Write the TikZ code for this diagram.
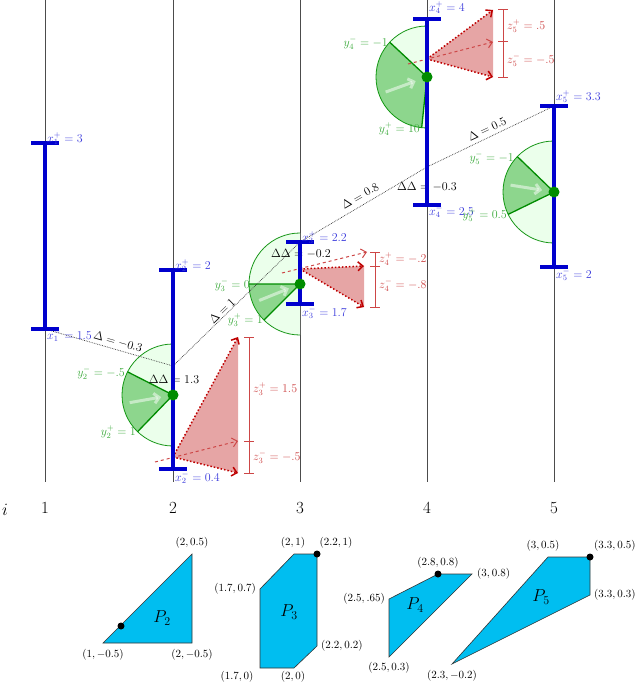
\documentclass[tikz,border=0pt]{standalone}
\usetikzlibrary{arrows.meta,calc}
\definecolor{bl}{RGB}{0,0,205}
\definecolor{bllab}{RGB}{60,60,220}
\definecolor{gd}{RGB}{0,140,0}
\definecolor{glab}{RGB}{60,170,60}
\definecolor{rd}{RGB}{190,0,0}
\definecolor{rlab}{RGB}{205,70,70}
\definecolor{rfill}{RGB}{230,165,165}
\definecolor{pfill}{RGB}{0,190,240}
\tikzset{
  col/.style={draw=black!70,line width=0.6pt},
  bar/.style={draw=bl,line width=3.5pt},
  blab/.style={text=bllab,inner sep=1pt,font=\fontsize{12}{13}\selectfont},
  glabel/.style={text=glab,inner sep=1pt,anchor=east,font=\fontsize{12}{13}\selectfont},
  rlabel/.style={text=rlab,inner sep=1pt,anchor=west,font=\fontsize{12}{13}\selectfont},
  dlab/.style={text=black,inner sep=1pt,font=\fontsize{12}{13}\selectfont},
  dline/.style={densely dotted,line width=0.7pt,black!80},
  rdash/.style={dashed,draw=rlab,line width=1pt,-{Straight Barb[length=5pt,width=9pt]}},
  rdot/.style={dotted,draw=rd,line width=1.5pt,-{Straight Barb[length=5pt,width=9pt]}},
  rtri/.style={fill=rfill},
  brk/.style={draw=rlab,line width=1pt},
  plab/.style={inner sep=1pt,font=\fontsize{11}{12}\selectfont},
  poly/.style={fill=pfill,draw=black!80,line width=0.6pt},
  plbl/.style={font=\fontsize{18}{19}\selectfont},
}
\newcommand\gsemic[5]{%
  \fill[green!8] (#1,#2) ++(0,-51) arc[start angle=-90,end angle=-270,radius=51] -- cycle;
  \draw[gd!90,line width=0.8pt] (#1,#2) ++(0,-51) arc[start angle=-90,end angle=-270,radius=51];
  \fill[green!60!black,fill opacity=0.4] (#1,#2) -- ++(-#3:51) arc[start angle=-#3,end angle=-#4,radius=51] -- cycle;
  \draw[gd,line width=1.3pt] ($(#1,#2)+(-#3:51)$) -- (#1,#2) -- ($(#1,#2)+(-#4:51)$);
  \draw[white,opacity=0.5,line width=3pt,-{Straight Barb[length=5pt,width=10pt]}] ($(#1,#2)+(-#5:44)$) -- ($(#1,#2)+(-#5:12)$);
}
\newcommand\bbar[3]{%
  \draw[bar] (#1,#2) -- (#1,#3);
  \draw[bar] (#1-14,#2) -- (#1+14,#2);
  \draw[bar] (#1-14,#3) -- (#1+14,#3);
}
\begin{document}
\begin{tikzpicture}[x=1pt,y=-1pt]
\useasboundingbox (0,0) rectangle (640,685);
% columns
\foreach \c/\x in {1/45,2/173,3/300,4/427,5/554}{
  \draw[col] (\x,0) coordinate (top\c) -- (\x,482) coordinate (bot\c);
  \node[font=\fontsize{17}{18}\selectfont] (n\c) at (\x,508) {\c};
}
\node[font=\fontsize{17}{18}\selectfont] (ilab) at (5,510) {$i$};
% green semicircles
\gsemic{173}{395}{153}{226}{190}
\gsemic{300}{284}{180}{225}{202}
\gsemic{427}{77}{137}{264}{200}
\gsemic{554}{192}{136}{206}{171}
% red parts col2
\coordinate (a2) at (173,457);
\coordinate (s2) at (155,462);
\coordinate (t2) at (238,441);
\coordinate (u2) at (238,337);
\coordinate (v2) at (238,473);
\fill[rtri] (a2) -- (u2) -- (v2) -- cycle;
\draw[rdash] (s2) -- (t2);
\draw[rdot] (a2) -- (u2);
\draw[rdot] (a2) -- (v2);
\draw[brk] (249,337) -- (249,473) (244,337) -- (254,337) (244,441) -- (254,441) (244,473) -- (254,473);
\node[rlabel] (z3p) at (252,389) {$z_3^+ = 1.5$};
\node[rlabel] (z3m) at (252,457) {$z_3^- = -.5$};
% col3
\coordinate (a3) at (300,269);
\coordinate (s3) at (282,273);
\coordinate (t3) at (367,252);
\coordinate (u3) at (364,266);
\coordinate (v3) at (364,307);
\fill[rtri] (a3) -- (u3) -- (v3) -- cycle;
\draw[rdash] (s3) -- (t3);
\draw[rdot] (a3) -- (u3);
\draw[rdot] (a3) -- (v3);
\draw[brk] (375,252) -- (375,307) (370,252) -- (380,252) (370,266) -- (380,266) (370,307) -- (380,307);
\node[rlabel] (z4p) at (378,259) {$z_4^+ = -.2$};
\node[rlabel] (z4m) at (378,285) {$z_4^- = -.8$};
% col4
\coordinate (a4) at (427,59);
\coordinate (s4) at (408,64);
\coordinate (t4) at (493,42);
\coordinate (u4) at (493,10);
\coordinate (v4) at (493,77);
\fill[rtri] (a4) -- (u4) -- (v4) -- cycle;
\draw[rdash] (s4) -- (t4);
\draw[rdot] (a4) -- (u4);
\draw[rdot] (a4) -- (v4);
\draw[brk] (503,10) -- (503,77) (498,10) -- (508,10) (498,42) -- (508,42) (498,77) -- (508,77);
\node[rlabel] (z5p) at (506,26) {$z_5^+ = .5$};
\node[rlabel] (z5m) at (506,60) {$z_5^- = -.5$};
% dotted delta line
\coordinate (d1) at (45,329);
\coordinate (d2) at (173,366);
\coordinate (d3) at (300,242);
\coordinate (d4) at (427,167);
\coordinate (d5) at (554,106);
\draw[dline] (d1) -- (d2) -- (d3) -- (d4) -- (d5);
\node[dlab,rotate=-16] (D1) at (118,342) {$\Delta = -0.3$};
\node[dlab,rotate=44] (D2) at (222,311) {$\Delta = 1$};
\node[dlab,rotate=30] (D3) at (360,196) {$\Delta = 0.8$};
\node[dlab,rotate=25] (D4) at (487,129) {$\Delta = 0.5$};
\node[dlab] (DD2) at (174,379) {$\Delta\Delta = 1.3$};
\node[dlab] (DD3) at (301,254) {$\Delta\Delta = -0.2$};
\node[dlab] (DD4) at (427,187) {$\Delta\Delta = -0.3$};
% blue bars
\bbar{45}{143}{329}
\bbar{173}{270}{469}
\bbar{300}{242}{304}
\bbar{427}{19}{205}
\bbar{554}{106}{267}
\node[blab,anchor=south west] (x1p) at (46,146) {$x_1^+ = 3$};
\node[blab,anchor=north west] (x1m) at (46,328) {$x_1^- = 1.5$};
\node[blab,anchor=south west] (x2p) at (174,273) {$x_2^+ = 2$};
\node[blab,anchor=north west] (x2m) at (174,470) {$x_2^- = 0.4$};
\node[blab,anchor=south west] (x3p) at (301,245) {$x_3^+ = 2.2$};
\node[blab,anchor=north west] (x3m) at (301,305) {$x_3^- = 1.7$};
\node[blab,anchor=south west] (x4p) at (428,15) {$x_4^+ = 4$};
\node[blab,anchor=north west] (x4m) at (428,204) {$x_4^- = 2.5$};
\node[blab,anchor=south west] (x5p) at (555,104) {$x_5^+ = 3.3$};
\node[blab,anchor=north west] (x5m) at (555,267) {$x_5^- = 2$};
% green labels
\node[glabel] (y2m) at (126,373) {$y_2^- = -.5$};
\node[glabel] (y2p) at (137,432) {$y_2^+ = 1$};
\node[glabel] (y3m) at (251,285) {$y_3^- = 0$};
\node[glabel] (y3p) at (264,320) {$y_3^+ = 1$};
\node[glabel] (y4m) at (389,43) {$y_4^- = -1$};
\node[glabel] (y4p) at (421,129) {$y_4^+ = 10$};
\node[glabel] (y5m) at (515,158) {$y_5^- = -1$};
\node[glabel] (y5p) at (508,215) {$y_5^+ = 0.5$};
% dots
\foreach \p in {(173,395),(300,284),(427,77),(554,192)} \fill[gd] \p circle (5.5);
% polygons
\draw[poly] (103,643) -- (192,643) -- (192,554) -- cycle;
\fill (121,626) circle (3.5);
\node[plbl] (P2) at (162,618) {$P_2$};
\node[plab] at (192,543) {$(2,0.5)$};
\node[plab] at (103,655) {$(1,-0.5)$};
\node[plab] at (192,655) {$(2,-0.5)$};
\draw[poly] (260,589) -- (294,554) -- (317,554) -- (317,646) -- (294,668) -- (260,668) -- cycle;
\fill (317,554) circle (3.5);
\node[plbl] (P3) at (289,612) {$P_3$};
\node[plab] at (293,543) {$(2,1)$};
\node[plab] at (336,543) {$(2.2,1)$};
\node[plab,anchor=east] at (257,589) {$(1.7,0.7)$};
\node[plab,anchor=west] at (320,646) {$(2.2,0.2)$};
\node[plab] at (237,677) {$(1.7,0)$};
\node[plab] at (293,677) {$(2,0)$};
\draw[poly] (389,599) -- (438,574) -- (472,574) -- (389,657) -- cycle;
\fill (438,574) circle (3.5);
\node[plbl] (P4) at (415,605) {$P_4$};
\node[plab] at (438,563) {$(2.8,0.8)$};
\node[plab,anchor=west] at (476,574) {$(3,0.8)$};
\node[plab,anchor=east] at (386,599) {$(2.5,.65)$};
\node[plab] at (389,668) {$(2.5,0.3)$};
\draw[poly] (548,557) -- (590,557) -- (590,595) -- (452,664) -- cycle;
\fill (590,557) circle (3.5);
\node[plbl] (P5) at (541,597) {$P_5$};
\node[plab] at (543,546) {$(3,0.5)$};
\node[plab,anchor=west] at (593,546) {$(3.3,0.5)$};
\node[plab,anchor=west] at (593,595) {$(3.3,0.3)$};
\node[plab] at (452,676) {$(2.3,-0.2)$};
\end{tikzpicture}
\end{document}
